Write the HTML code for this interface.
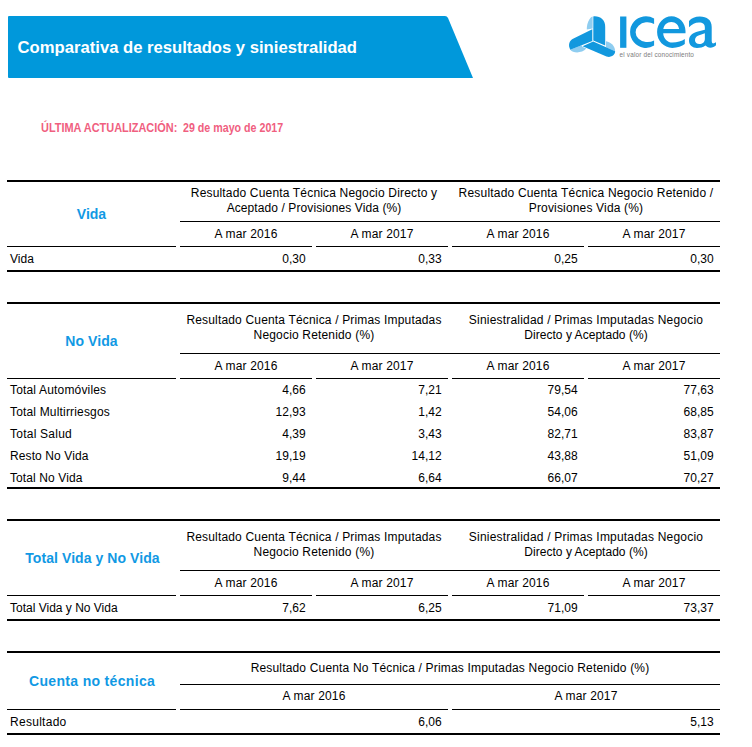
<!DOCTYPE html>
<html><head><meta charset="utf-8"><title>Comparativa de resultados y siniestralidad</title>
<style>
html,body{margin:0;padding:0;background:#fff;}
body{width:752px;height:747px;position:relative;overflow:hidden;font-family:"Liberation Sans",sans-serif;font-size:12px;color:#000;letter-spacing:0.17px;}
.a{position:absolute;white-space:nowrap;}
.ln{position:absolute;background:#000;height:1px;}
.tk{position:absolute;background:#000;height:2px;left:7px;width:713px;}
.c{text-align:center;}
.r{text-align:right;}
.t{color:#1199e4;font-weight:bold;font-size:14px;text-align:center;left:8px;width:169px;line-height:18px;letter-spacing:0.07px;}
.h{line-height:15px;}
.u{font-size:12px;font-weight:bold;color:#f0607f;line-height:15px;transform-origin:0 0;transform:scaleX(0.897);letter-spacing:0;top:121px;}
</style></head><body>
<svg class="a" style="left:0;top:0" width="752" height="100" viewBox="0 0 752 100"><path d="M9 16 H445 Q447 16 448 18 L473 78 H9 Q8 78 8 77 V17 Q8 16 9 16 Z" fill="#0098db"/></svg>
<div class="a" style="left:17.6px;top:39px;font-size:16.65px;font-weight:bold;color:#fff;line-height:18px;letter-spacing:0;">Comparativa de resultados y siniestralidad</div>
<svg class="a" style="left:560px;top:5px" width="170" height="70" viewBox="560 5 170 70">
<g fill="#8fcdf0">
<path d="M592.6 16.5 C589.5 17.5 586.6 23.5 586.8 29.6 L592.6 28.6 Z"/>
<path d="M570.3 49.8 C573 53.4 582 53.6 586.3 48.6 L582.3 46.7 L581.5 45.2 Z"/>
<path d="M606 41.2 C611 42 615 46 615.1 51.2 L606 47.2 Z"/>
</g>
<g fill="#1298de">
<path d="M593.3 16.4 C600 15.8 605.2 19.5 605.2 27 L605.2 45.6 L593.3 40.4 Z"/>
<path d="M592.3 29.3 L573 38.8 C569.5 40.6 568.3 44.5 569.6 48 C570 49.2 570.3 49.8 570.3 49.8 L592.3 40.9 Z"/>
<path d="M593.2 41.6 L582.6 46.3 L606.5 56.4 C609.5 57.6 613 56.5 614.6 53.6 C615.2 52.4 615.1 51.2 615.1 51.2 Z"/>
<rect x="620.1" y="16.5" width="6.3" height="31.3"/>
<path d="M654.1 18.6 A15.8 15.8 0 1 0 654.1 45.6 L654.1 40.4 A11.9 9.9 0 1 1 654.1 23.9 Z"/>
<path fill-rule="evenodd" d="M685.5 33.15 L685.5 31 C685.5 22.9 679.2 16.3 671.5 16.3 C663.5 16.3 657.1 23.4 657.1 32.1 C657.1 40.8 663.8 47.9 672.3 47.9 C677.5 47.9 682 46.5 684.8 44.1 L684.8 39 C682 41.3 677 42.5 672.5 42.5 C667.5 42.5 663.5 38.5 663.2 33.15 Z M663.3 29.1 C664 25 667 21.9 671.3 21.9 C675.7 21.9 678.6 25 679.1 29.1 Z"/>
<path fill-rule="evenodd" d="M689 21 C691.5 18 695 16.5 699.8 16.5 C707 16.5 711.7 20 711.7 27 L711.7 40.5 C711.7 43 712.5 43.8 714 43.3 L716 42.3 L716 45.3 C714 47.5 710 48.6 707.5 47 L705.4 45.5 C703 47.5 700 47.9 697 47.9 C692.5 47.9 689 45 689 40.7 C689 35 693 33 698 31.5 L704.85 29.8 L704.85 27.5 C704.85 24 703 22.5 699 22.5 C695 22.5 692 24 689 27.3 Z M704.85 33.2 L698.5 35.6 C696 36.6 695 38.2 695 40.2 C695 42.5 696.8 44 699.3 44 C702.5 44 704.85 42 704.85 39 Z"/>
</g>
<text x="619.6" y="56.8" font-family="Liberation Sans, sans-serif" font-size="7" fill="#7c7c7c" textLength="74.5" lengthAdjust="spacingAndGlyphs">el valor del conocimiento</text>
</svg>
<div class="a u" style="left:41.3px;transform:scaleX(0.912)">ÚLTIMA ACTUALIZACIÓN:</div>
<div class="a u" style="left:183px;transform:scaleX(0.889)">29 de mayo de 2017</div>
<div class="tk" style="top:180px"></div>
<div class="a c h" style="left:180px;width:268px;top:186px">Resultado Cuenta Técnica Negocio Directo y<br><span style="letter-spacing:0.09px">Aceptado / Provisiones Vida (%)</span></div>
<div class="a c h" style="left:452px;width:268px;top:186px"><span style="letter-spacing:0.19px">Resultado Cuenta Técnica Negocio Retenido /</span><br>Provisiones Vida (%)</div>
<div class="ln" style="left:180px;width:540px;top:221px"></div>
<div class="a c h" style="left:180px;width:132px;top:227px">A mar 2016</div>
<div class="ln" style="left:180px;width:132px;top:246px"></div>
<div class="a c h" style="left:316px;width:132px;top:227px">A mar 2017</div>
<div class="ln" style="left:316px;width:132px;top:246px"></div>
<div class="a c h" style="left:452px;width:132px;top:227px">A mar 2016</div>
<div class="ln" style="left:452px;width:132px;top:246px"></div>
<div class="a c h" style="left:588px;width:132px;top:227px">A mar 2017</div>
<div class="ln" style="left:588px;width:132px;top:246px"></div>
<div class="ln" style="left:7px;width:169px;top:246px"></div>
<div class="a t" style="left:7px;top:205px;letter-spacing:0px">Vida</div>
<div class="a h" style="left:10px;top:252px;letter-spacing:0px">Vida</div>
<div class="a r h" style="left:180px;width:125.6px;top:252px;letter-spacing:0">0,30</div>
<div class="a r h" style="left:316px;width:125.6px;top:252px;letter-spacing:0">0,33</div>
<div class="a r h" style="left:452px;width:125.6px;top:252px;letter-spacing:0">0,25</div>
<div class="a r h" style="left:588px;width:125.6px;top:252px;letter-spacing:0">0,30</div>
<div class="tk" style="top:270px"></div>
<div class="tk" style="top:302px"></div>
<div class="a c h" style="left:180px;width:268px;top:313px">Resultado Cuenta Técnica / Primas Imputadas<br>Negocio Retenido (%)</div>
<div class="a c h" style="left:452px;width:268px;top:313px"><span style="letter-spacing:0.2px">Siniestralidad / Primas Imputadas Negocio</span><br><span style="letter-spacing:0.03px">Directo y Aceptado (%)</span></div>
<div class="ln" style="left:180px;width:540px;top:353px"></div>
<div class="a c h" style="left:180px;width:132px;top:359px">A mar 2016</div>
<div class="ln" style="left:180px;width:132px;top:378px"></div>
<div class="a c h" style="left:316px;width:132px;top:359px">A mar 2017</div>
<div class="ln" style="left:316px;width:132px;top:378px"></div>
<div class="a c h" style="left:452px;width:132px;top:359px">A mar 2016</div>
<div class="ln" style="left:452px;width:132px;top:378px"></div>
<div class="a c h" style="left:588px;width:132px;top:359px">A mar 2017</div>
<div class="ln" style="left:588px;width:132px;top:378px"></div>
<div class="ln" style="left:7px;width:169px;top:378px"></div>
<div class="a t" style="left:7px;top:332px">No Vida</div>
<div class="a h" style="left:10px;top:383px;letter-spacing:0.17px">Total Automóviles</div>
<div class="a r h" style="left:180px;width:125.6px;top:383px;letter-spacing:0">4,66</div>
<div class="a r h" style="left:316px;width:125.6px;top:383px;letter-spacing:0">7,21</div>
<div class="a r h" style="left:452px;width:125.6px;top:383px;letter-spacing:0">79,54</div>
<div class="a r h" style="left:588px;width:125.6px;top:383px;letter-spacing:0">77,63</div>
<div class="a h" style="left:10px;top:405px;letter-spacing:0.17px">Total Multirriesgos</div>
<div class="a r h" style="left:180px;width:125.6px;top:405px;letter-spacing:0">12,93</div>
<div class="a r h" style="left:316px;width:125.6px;top:405px;letter-spacing:0">1,42</div>
<div class="a r h" style="left:452px;width:125.6px;top:405px;letter-spacing:0">54,06</div>
<div class="a r h" style="left:588px;width:125.6px;top:405px;letter-spacing:0">68,85</div>
<div class="a h" style="left:10px;top:427px;letter-spacing:0.24px">Total Salud</div>
<div class="a r h" style="left:180px;width:125.6px;top:427px;letter-spacing:0">4,39</div>
<div class="a r h" style="left:316px;width:125.6px;top:427px;letter-spacing:0">3,43</div>
<div class="a r h" style="left:452px;width:125.6px;top:427px;letter-spacing:0">82,71</div>
<div class="a r h" style="left:588px;width:125.6px;top:427px;letter-spacing:0">83,87</div>
<div class="a h" style="left:10px;top:449px;letter-spacing:0.1px">Resto No Vida</div>
<div class="a r h" style="left:180px;width:125.6px;top:449px;letter-spacing:0">19,19</div>
<div class="a r h" style="left:316px;width:125.6px;top:449px;letter-spacing:0">14,12</div>
<div class="a r h" style="left:452px;width:125.6px;top:449px;letter-spacing:0">43,88</div>
<div class="a r h" style="left:588px;width:125.6px;top:449px;letter-spacing:0">51,09</div>
<div class="a h" style="left:10px;top:471px;letter-spacing:0.1px">Total No Vida</div>
<div class="a r h" style="left:180px;width:125.6px;top:471px;letter-spacing:0">9,44</div>
<div class="a r h" style="left:316px;width:125.6px;top:471px;letter-spacing:0">6,64</div>
<div class="a r h" style="left:452px;width:125.6px;top:471px;letter-spacing:0">66,07</div>
<div class="a r h" style="left:588px;width:125.6px;top:471px;letter-spacing:0">70,27</div>
<div class="tk" style="top:487px"></div>
<div class="tk" style="top:519px"></div>
<div class="a c h" style="left:180px;width:268px;top:530px">Resultado Cuenta Técnica / Primas Imputadas<br>Negocio Retenido (%)</div>
<div class="a c h" style="left:452px;width:268px;top:530px"><span style="letter-spacing:0.2px">Siniestralidad / Primas Imputadas Negocio</span><br><span style="letter-spacing:0.03px">Directo y Aceptado (%)</span></div>
<div class="ln" style="left:180px;width:540px;top:570px"></div>
<div class="a c h" style="left:180px;width:132px;top:576px">A mar 2016</div>
<div class="ln" style="left:180px;width:132px;top:595px"></div>
<div class="a c h" style="left:316px;width:132px;top:576px">A mar 2017</div>
<div class="ln" style="left:316px;width:132px;top:595px"></div>
<div class="a c h" style="left:452px;width:132px;top:576px">A mar 2016</div>
<div class="ln" style="left:452px;width:132px;top:595px"></div>
<div class="a c h" style="left:588px;width:132px;top:576px">A mar 2017</div>
<div class="ln" style="left:588px;width:132px;top:595px"></div>
<div class="ln" style="left:7px;width:169px;top:595px"></div>
<div class="a t" style="left:8px;top:549px">Total Vida y No Vida</div>
<div class="a h" style="left:10px;top:601px;letter-spacing:0px">Total Vida y No Vida</div>
<div class="a r h" style="left:180px;width:125.6px;top:601px;letter-spacing:0">7,62</div>
<div class="a r h" style="left:316px;width:125.6px;top:601px;letter-spacing:0">6,25</div>
<div class="a r h" style="left:452px;width:125.6px;top:601px;letter-spacing:0">71,09</div>
<div class="a r h" style="left:588px;width:125.6px;top:601px;letter-spacing:0">73,37</div>
<div class="tk" style="top:619px"></div>
<div class="tk" style="top:651px"></div>
<div class="a c h" style="left:180px;width:540px;top:661px">Resultado Cuenta No Técnica / Primas Imputadas Negocio Retenido (%)</div>
<div class="ln" style="left:180px;width:540px;top:684px"></div>
<div class="a c h" style="left:180px;width:268px;top:689px">A mar 2016</div>
<div class="ln" style="left:180px;width:268px;top:709px"></div>
<div class="a c h" style="left:452px;width:268px;top:689px">A mar 2017</div>
<div class="ln" style="left:452px;width:268px;top:709px"></div>
<div class="ln" style="left:7px;width:169px;top:709px"></div>
<div class="a t" style="left:7.6px;top:672px;letter-spacing:0.33px">Cuenta no técnica</div>
<div class="a h" style="left:10px;top:715px;letter-spacing:0.28px">Resultado</div>
<div class="a r h" style="left:180px;width:261.6px;top:715px;letter-spacing:0">6,06</div>
<div class="a r h" style="left:452px;width:261.6px;top:715px;letter-spacing:0">5,13</div>
<div class="tk" style="top:733px"></div>
</body></html>
